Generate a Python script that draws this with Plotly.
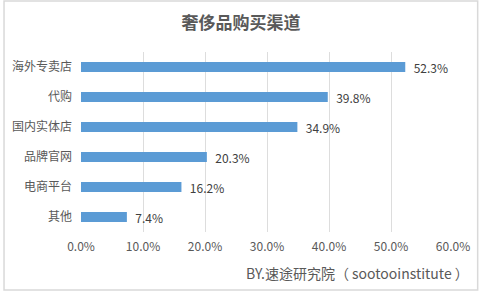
import plotly.graph_objects as go

categories = ["海外专卖店", "代购", "国内实体店", "品牌官网", "电商平台", "其他"]
values = [52.3, 39.8, 34.9, 20.3, 16.2, 7.4]
tick_vals = [0, 10, 20, 30, 40, 50, 60]
tick_text = ["0.0%", "10.0%", "20.0%", "30.0%", "40.0%", "50.0%", "60.0%"]
title_text = "奢侈品购买渠道"
footer_text = "BY.速途研究院（ sootooinstitute ）"

W, H = 482, 291
L, R, T, B = 79, 26, 52, 59
pw, ph = W - L - R, H - T - B

font = "Noto Sans CJK SC, Microsoft YaHei, sans-serif"

fig = go.Figure(go.Bar(
    y=categories[::-1], x=values[::-1], orientation="h",
    marker=dict(color="#5B9BD5", line=dict(width=0)),
    text=["  " + f"{v:.1f}%" for v in values[::-1]], textposition="outside",
    textfont=dict(size=12, color="#404040", family=font), constraintext="none",
    cliponaxis=False, width=0.33,
))

fig.update_layout(
    width=W, height=H, margin=dict(l=L, r=R, t=T, b=B),
    paper_bgcolor="white", plot_bgcolor="white", showlegend=False,
    title=dict(text=f"<b>{title_text}</b>", x=0.5, xanchor="center", y=1 - 23 / H, yanchor="middle",
               font=dict(size=17, color="#595959", family=font)),
    xaxis=dict(range=[0, 60], tickvals=tick_vals, ticktext=tick_text, showgrid=True,
               gridcolor="#DDDDDD", gridwidth=1, zeroline=False, showline=False,
               tickfont=dict(size=12, color="#595959", family=font), ticks="", ticklabelstandoff=6),
    yaxis=dict(showgrid=False, zeroline=False, showline=False, ticks="",
               tickfont=dict(size=12, color="#595959", family=font), ticklabelstandoff=8),
    font=dict(family=font),
    annotations=[dict(text=footer_text, xref="paper", yref="paper",
                      x=(474 - L) / pw, y=-(273 - (T + ph)) / ph, xanchor="right", yanchor="middle",
                      showarrow=False, font=dict(size=14, color="#595959", family=font))],
    shapes=[dict(type="rect", xref="paper", yref="paper",
                 x0=-(L - 1) / pw, x1=(W - L - 1) / pw, y0=-(B - 1) / ph, y1=(ph + T - 1) / ph,
                 line=dict(color="#D9D9D9", width=1.5), fillcolor="rgba(0,0,0,0)", layer="below")],
)

fig.write_html("out.html")
